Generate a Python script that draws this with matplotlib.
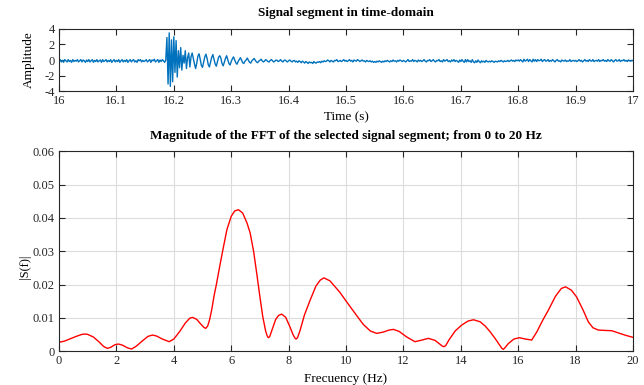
import numpy as np
import matplotlib
matplotlib.use('Agg')
import matplotlib.pyplot as plt

SIGNAL_COLOR = '#0072BD'
FFT_COLOR = '#FF0000'

# time-domain segment, one sample every 2 ms from 16.0 s to 17.0 s
t_start = 16.0
t_step = 0.002
amplitude = [
    # 16.00
    -0.1, 0.05, -0.25, -0.05, -0.3, 0.05, -0.1, -0.25, 0.05, -0.2, -0.05, -0.3, 0.05, -0.2, -0.05, -0.15, 0.05, -0.25, -0.1, 0.05, -0.25, 0.0, -0.1, -0.3, 0.0,
    # 16.05
    -0.2, 0.05, -0.25, -0.1, 0.05, -0.3, -0.05, -0.2, 0.05, -0.25, -0.1, 0.0, -0.3, 0.05, -0.2, -0.1, 0.05, -0.25, -0.05, -0.2, 0.05, -0.3, -0.1, 0.05, -0.25,
    # 16.10
    -0.05, -0.2, 0.05, -0.3, -0.1, 0.05, -0.25, -0.05, -0.2, 0.05, -0.3, -0.1, 0.05, -0.25, -0.05, 0.05, -0.25, -0.1, -0.3, 0.05, -0.1, 0.05, -0.25, -0.05, -0.2,
    # 16.15
    -0.1, 0.05, -0.25, -0.1, 0.05, -0.3, 0.0, -0.1, 0.1, -0.25, -0.1, 0.05, -0.3, 0.0, -0.2, 0.05, -0.1, -0.3, 0.0, 2.9, -3.1, 3.5, -3.4, 2.6, -2.8,
    # 16.20
    3.0, -1.6, 2.5, -2.2, 1.2, -1.0, 1.6, -1.3, 0.6, -0.4, 1.2, -1.1, 0.3, 0.9, -0.9, 0.4, 0.9, 0.2, -0.5, -1.1, -0.4, 0.5, 0.8, 0.1, -0.7,
    # 16.25
    -0.95, -0.3, 0.4, 0.75, 0.2, -0.6, -0.9, -0.3, 0.35, 0.7, 0.1, -0.5, -0.8, -0.25, 0.35, 0.55, 0.25, -0.45, -0.75, -0.3, 0.2, 0.55, 0.05, -0.45, -0.65,
    # 16.30
    -0.2, 0.15, 0.4, 0.0, -0.35, -0.55, -0.2, 0.05, 0.3, 0.0, -0.35, -0.45, -0.15, 0.0, 0.25, -0.05, -0.3, -0.4, -0.1, 0.05, 0.2, -0.05, -0.25, -0.35, -0.15,
    # 16.35
    -0.05, 0.1, -0.1, -0.25, -0.15, 0.05, -0.05, -0.2, -0.25, -0.05, 0.05, -0.1, -0.25, -0.15, 0.0, -0.05, -0.2, -0.1, 0.05, -0.15, -0.25, -0.05, 0.0, -0.15, -0.25,
    # 16.40
    -0.1, 0.0, -0.15, -0.25, -0.1, -0.05, -0.25, -0.15, -0.3, -0.1, -0.2, -0.35, -0.15, -0.25, -0.4, -0.2, -0.3, -0.45, -0.25, -0.35, -0.3, -0.45, -0.2, -0.35, -0.4,
    # 16.45
    -0.25, -0.3, -0.2, -0.35, -0.15, -0.25, -0.1, -0.2, -0.15, 0.0, -0.1, -0.25, -0.05, -0.15, -0.25, -0.05, -0.1, 0.05, -0.2, -0.15, -0.05, -0.2, -0.1, 0.05, -0.15,
    # 16.50
    -0.05, -0.2, -0.1, 0.05, -0.15, -0.05, -0.25, 0.0, -0.1, -0.15, 0.05, -0.05, -0.2, -0.1, 0.0, -0.15, -0.1, -0.25, -0.05, -0.15, -0.2, -0.1, -0.25, -0.15, -0.3,
    # 16.55
    -0.2, -0.3, -0.15, -0.25, -0.1, -0.2, -0.3, -0.15, -0.25, -0.1, -0.2, -0.05, -0.15, -0.25, -0.1, -0.2, 0.0, -0.15, -0.1, -0.25, -0.05, -0.15, 0.0, -0.1, -0.2,
    # 16.60
    -0.05, -0.15, -0.25, -0.1, 0.05, -0.2, -0.1, -0.15, 0.05, -0.2, -0.05, -0.1, -0.25, 0.0, -0.15, -0.05, -0.2, -0.1, 0.05, -0.15, -0.25, -0.05, -0.1, 0.05, -0.2,
    # 16.65
    -0.1, 0.05, -0.15, -0.25, -0.05, -0.1, 0.05, -0.2, -0.1, -0.25, 0.05, -0.15, -0.05, 0.05, -0.2, -0.1, -0.25, 0.0, -0.15, 0.05, -0.2, -0.05, -0.15, -0.3, 0.0,
    # 16.70
    -0.2, 0.05, -0.15, -0.3, 0.05, -0.25, 0.05, -0.2, -0.1, -0.3, 0.05, -0.25, -0.35, -0.1, -0.3, 0.0, -0.2, -0.35, -0.1, -0.25, -0.15, -0.3, -0.05, -0.2, -0.25,
    # 16.75
    -0.15, -0.25, -0.1, -0.2, -0.3, -0.15, -0.2, -0.25, -0.1, -0.2, -0.05, -0.15, -0.25, -0.1, -0.2, -0.15, -0.05, -0.2, -0.1, 0.0, -0.15, -0.05, -0.2, 0.0, -0.1,
    # 16.80
    0.0, -0.15, 0.05, -0.1, -0.25, 0.1, -0.15, -0.05, 0.1, -0.2, 0.05, -0.1, -0.25, 0.1, -0.15, 0.05, -0.2, 0.05, -0.1, -0.05, 0.1, -0.2, -0.05, 0.05, -0.15,
    # 16.85
    -0.1, 0.05, -0.2, -0.05, -0.15, 0.05, -0.1, -0.25, -0.05, 0.05, -0.15, -0.1, -0.25, 0.0, -0.1, -0.15, 0.0, -0.2, -0.1, -0.15, 0.05, -0.2, -0.1, -0.05, -0.15,
    # 16.90
    -0.05, -0.2, -0.1, 0.05, -0.15, -0.05, -0.25, -0.1, 0.05, -0.15, -0.05, -0.2, 0.05, -0.1, -0.15, 0.05, -0.2, -0.1, -0.05, -0.15, 0.05, -0.2, -0.05, -0.1, 0.05,
    # 16.95
    -0.15, -0.05, -0.2, 0.05, -0.1, -0.15, 0.05, -0.1, -0.25, -0.05, 0.05, -0.15, -0.1, 0.05, -0.2, -0.05, -0.1, 0.05, -0.15, -0.05, -0.2, 0.0, -0.1, -0.15, -0.05,
    # 17.00
    -0.1,
]
time = t_start + t_step * np.arange(len(amplitude))

# magnitude of the FFT
freq = [0.0, 0.2, 0.4, 0.6, 0.8, 0.9, 1.0, 1.2, 1.4, 1.55, 1.68, 1.8, 1.95, 2.07, 2.2, 2.4, 2.53, 2.7, 2.9, 3.1,
        3.26, 3.4, 3.6, 3.84, 4.0, 4.2, 4.4, 4.56, 4.66, 4.8, 4.95, 5.05, 5.11, 5.18, 5.25, 5.33, 5.4, 5.49, 5.6, 5.73,
        5.85, 6.0, 6.12, 6.25, 6.4, 6.55, 6.66, 6.78, 6.89, 7.0, 7.1, 7.2, 7.25, 7.29, 7.34, 7.4, 7.55, 7.65, 7.76, 7.9,
        8.05, 8.15, 8.22, 8.26, 8.31, 8.4, 8.55, 8.75, 8.95, 9.1, 9.23, 9.44, 9.6, 9.79, 10.02, 10.3, 10.6, 10.85, 11.07, 11.3,
        11.5, 11.65, 11.85, 12.1, 12.4, 12.6, 12.87, 13.1, 13.25, 13.35, 13.41, 13.47, 13.6, 13.8, 14.03, 14.25, 14.44, 14.67, 14.85, 15.02,
        15.2, 15.35, 15.43, 15.48, 15.53, 15.65, 15.85, 16.04, 16.25, 16.47, 16.65, 16.85, 17.05, 17.3, 17.5, 17.65, 17.85, 18.03, 18.25, 18.44,
        18.6, 18.79, 19.0, 19.26, 19.5, 19.75, 20.0]
mag = [0.0026, 0.0030, 0.0037, 0.0044, 0.0050, 0.0051, 0.0050, 0.0042, 0.0027, 0.0014, 0.0008, 0.0011, 0.0019, 0.0021, 0.0018, 0.0009, 0.0006, 0.0015, 0.0030, 0.0044,
       0.0048, 0.0045, 0.0036, 0.0028, 0.0036, 0.0058, 0.0084, 0.0099, 0.0101, 0.0095, 0.0080, 0.0071, 0.0068, 0.0075, 0.0095, 0.0128, 0.0165, 0.0203, 0.0255, 0.0313,
       0.0365, 0.0405, 0.0421, 0.0425, 0.0415, 0.0385, 0.0355, 0.0300, 0.0233, 0.0163, 0.0103, 0.0060, 0.0046, 0.0040, 0.0043, 0.0058, 0.0095, 0.0107, 0.0111, 0.0101,
       0.0072, 0.0050, 0.0039, 0.0036, 0.0040, 0.0062, 0.0108, 0.0153, 0.0195, 0.0213, 0.0220, 0.0211, 0.0195, 0.0176, 0.0148, 0.0115, 0.0080, 0.0060, 0.0053, 0.0057,
       0.0063, 0.0065, 0.0059, 0.0043, 0.0028, 0.0032, 0.0038, 0.0032, 0.0022, 0.0015, 0.0013, 0.0016, 0.0035, 0.0060, 0.0078, 0.0090, 0.0094, 0.0088, 0.0075, 0.0058,
       0.0037, 0.0018, 0.0008, 0.0005, 0.0009, 0.0022, 0.0036, 0.0040, 0.0036, 0.0033, 0.0058, 0.0092, 0.0123, 0.0165, 0.0188, 0.0193, 0.0183, 0.0163, 0.0125, 0.0088,
       0.0070, 0.0063, 0.0062, 0.0061, 0.0054, 0.0047, 0.0041]

time_ticks = [16, 16.1, 16.2, 16.3, 16.4, 16.5, 16.6, 16.7, 16.8, 16.9, 17]
amp_ticks = [-4, -2, 0, 2, 4]
freq_ticks = [0, 2, 4, 6, 8, 10, 12, 14, 16, 18, 20]
mag_ticks = [0, 0.01, 0.02, 0.03, 0.04, 0.05, 0.06]


def matlab_axes(ax):
    for s in ax.spines.values():
        s.set_color('#262626')
        s.set_linewidth(0.8)
    ax.tick_params(direction='in', top=True, right=True, length=4, width=0.8,
                   colors='#262626', labelsize=9, pad=3)


plt.rcParams['font.family'] = ['Liberation Serif', 'DejaVu Serif']

fig = plt.figure(figsize=(6.44, 3.85), dpi=100)
ax1 = fig.add_axes([0.0916, 0.7636, 0.8914, 0.1611])
ax2 = fig.add_axes([0.0916, 0.0883, 0.8914, 0.5182])

ax1.plot(time, amplitude, color=SIGNAL_COLOR, linewidth=1.0)
ax1.set_xlim(16, 17)
ax1.set_ylim(-4, 4)
ax1.set_xticks(time_ticks)
ax1.set_xticklabels(['16', '16.1', '16.2', '16.3', '16.4', '16.5', '16.6', '16.7', '16.8', '16.9', '17'])
ax1.set_yticks(amp_ticks)
ax1.set_yticklabels(['-4', '-2', '0', '2', '4'])
matlab_axes(ax1)
ax1.set_title('Signal segment in time-domain', fontsize=9.5, fontweight='bold', pad=9)
ax1.set_xlabel('Time (s)', fontsize=9.5, labelpad=3)
ax1.set_ylabel('Amplitude', fontsize=9.5)
ax1.yaxis.set_label_coords(-0.042, 0.5)

ax2.plot(freq, mag, color=FFT_COLOR, linewidth=1.0)
ax2.set_xlim(0, 20)
ax2.set_ylim(0, 0.06)
ax2.set_xticks(freq_ticks)
ax2.set_yticks(mag_ticks)
ax2.set_yticklabels(['0', '0.01', '0.02', '0.03', '0.04', '0.05', '0.06'])
ax2.grid(True, color='#dcdcdc', linewidth=0.8)
ax2.set_axisbelow(True)
matlab_axes(ax2)
ax2.set_title('Magnitude of the FFT of the selected signal segment; from 0 to 20 Hz',
              fontsize=9.5, fontweight='bold', pad=9)
ax2.set_xlabel('Frecuency (Hz)', fontsize=9.5, labelpad=4)
ax2.set_ylabel('|S(f)|', fontsize=9)
ax2.yaxis.set_label_coords(-0.049, 0.42)

fig.savefig('out.png', dpi=100)
